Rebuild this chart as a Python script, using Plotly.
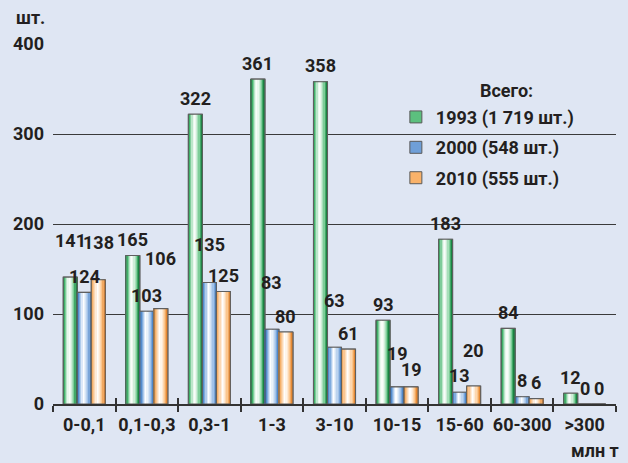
import plotly.graph_objects as go

categories = ["0-0,1", "0,1-0,3", "0,3-1", "1-3", "3-10", "10-15", "15-60", "60-300", ">300"]
v1993 = [141, 165, 322, 361, 358, 93, 183, 84, 12]
v2000 = [124, 103, 135, 83, 63, 19, 13, 8, 0]
v2010 = [138, 106, 125, 80, 61, 19, 20, 6, 0]
series_names = ["1993 (1 719 шт.)", "2000 (548 шт.)", "2010 (555 шт.)"]
y_ticks = [0, 100, 200, 300, 400]

# label vertical offsets (px) above bar tops, as in the original
shift1993 = [37, 16, 16, 16, 16, 16, 16, 16, 16]
shift2000 = [16, 16, 38, 47, 47, 33, 17, 16, 16]
shift2010 = [37, 50, 16, 16, 16, 17, 36, 16, 16]

FONT = "Roboto, sans-serif"
TXT = "#231f20"
BG = "#dfe6f3"
FS = 18


def fnt(size=FS):
    return dict(family=FONT, size=size, color=TXT, weight="bold")


gradients = [
    [(0, "#0e7d3c"), (0.12, "#3db066"), (0.3, "#c2e9cf"), (0.42, "#ffffff"), (0.58, "#e3f5e8"), (0.78, "#86d2a0"), (0.9, "#2f9e58"), (1.0, "#0b6e33")],
    [(0, "#1f5fa8"), (0.15, "#5d95d4"), (0.35, "#d0e1f5"), (0.45, "#ffffff"), (0.6, "#dde9f7"), (0.8, "#9ec0e8"), (1.0, "#3a78c0")],
    [(0, "#e88a2a"), (0.15, "#f7b877"), (0.35, "#fde6cf"), (0.45, "#ffffff"), (0.6, "#feeedd"), (0.8, "#fbc48a"), (1.0, "#e07a1c")],
]
legend_fill = ["#5cc07e", "#6f9fd8", "#f9b26a"]


def hex2rgb(h):
    h = h.lstrip("#")
    return tuple(int(h[i:i + 2], 16) for i in (0, 2, 4))


def grad_color(stops, t):
    for (t0, c0), (t1, c1) in zip(stops, stops[1:]):
        if t0 <= t <= t1:
            f = (t - t0) / (t1 - t0) if t1 > t0 else 0
            a, b = hex2rgb(c0), hex2rgb(c1)
            return "rgb(%d,%d,%d)" % tuple(round(a[i] + (b[i] - a[i]) * f) for i in range(3))
    return stops[-1][1]


BW = 0.224
offsets = [-1.5 * BW, -0.5 * BW, 0.5 * BW]
NS = 12

fig = go.Figure()
all_vals = [v1993, v2000, v2010]
all_shifts = [shift1993, shift2000, shift2010]

for s, vals in enumerate(all_vals):
    fig.add_trace(go.Bar(
        x=categories, y=vals, name=series_names[s], width=BW, offset=offsets[s],
        marker=dict(color=legend_fill[s], line=dict(color="#5a5a5a", width=1)),
        legendgroup=str(s), showlegend=True, hoverinfo="skip",
    ))
    sw = BW / NS
    for k in range(NS):
        t = (k + 0.5) / NS
        fig.add_trace(go.Bar(
            x=categories, y=vals, width=sw * 1.05, offset=offsets[s] + k * sw,
            marker=dict(color=grad_color(gradients[s], t), line=dict(width=0)),
            legendgroup=str(s), showlegend=False, hoverinfo="skip",
        ))
    fig.add_trace(go.Bar(
        x=categories, y=vals, width=BW, offset=offsets[s],
        marker=dict(color="rgba(0,0,0,0)", line=dict(color="#5f5f5f", width=1.1)),
        legendgroup=str(s), showlegend=False, hoverinfo="skip",
    ))

fig.add_trace(go.Scatter(x=[None], y=[None], xaxis="x2", showlegend=False, hoverinfo="skip"))

annotations = []
for s, vals in enumerate(all_vals):
    for i, v in enumerate(vals):
        annotations.append(dict(
            x=i + offsets[s] + BW / 2, y=v, xref="x", yref="y", text=str(v),
            showarrow=False, yanchor="middle", yshift=all_shifts[s][i],
            font=fnt(),
        ))
annotations.append(dict(xref="paper", yref="paper", x=-0.07, y=1.075, xanchor="left", yanchor="middle",
                        text="шт.", showarrow=False, font=fnt()))
annotations.append(dict(xref="paper", yref="paper", x=1.008, y=-0.128, xanchor="right", yanchor="middle",
                        text="млн т", showarrow=False, font=fnt()))
annotations.append(dict(xref="paper", yref="paper", x=0.806, y=0.872, xanchor="center", yanchor="middle",
                        text="Всего:", showarrow=False, font=fnt()))

boundaries = [i - 0.5 for i in range(len(categories) + 1)]

fig.update_layout(
    width=628, height=463,
    margin=dict(l=53, r=12, t=44, b=59, autoexpand=False),
    paper_bgcolor=BG, plot_bgcolor=BG,
    barmode="overlay",
    font=fnt(),
    annotations=annotations,
    legend=dict(
        x=0.609, y=0.848, xanchor="left", yanchor="top",
        bgcolor="rgba(0,0,0,0)", traceorder="grouped", tracegroupgap=4,
        font=fnt(),
    ),
    xaxis=dict(
        type="category", range=[-0.5, len(categories) - 0.5], automargin=False, tickangle=0,
        showline=True, linecolor="#333333", linewidth=1.5,
        ticks="outside", tickson="boundaries", ticklen=6, tickwidth=1.5, tickcolor="#333333",
        showgrid=False, zeroline=False, ticklabelstandoff=4,
        tickfont=fnt(),
    ),
    xaxis2=dict(
        overlaying="x", anchor="y", range=[-0.5, len(categories) - 0.5],
        tickmode="array", tickvals=boundaries, showticklabels=False,
        ticks="inside", ticklen=6, tickwidth=1.5, tickcolor="#333333",
        showgrid=False, zeroline=False, showline=False,
    ),
    yaxis=dict(
        range=[0, 400], tickmode="array", tickvals=y_ticks, automargin=False,
        showgrid=True, gridcolor="#3a3a3a", gridwidth=1.1,
        zeroline=False, showline=False, ticks="", ticklabelstandoff=8,
        tickfont=fnt(),
    ),
    showlegend=True,
)

fig.write_html(
    "out.html",
    config={"displayModeBar": False},
    post_script="document.body.style.margin='0';document.body.style.overflow='hidden';"
                "document.body.style.background='#dfe6f3';",
)
